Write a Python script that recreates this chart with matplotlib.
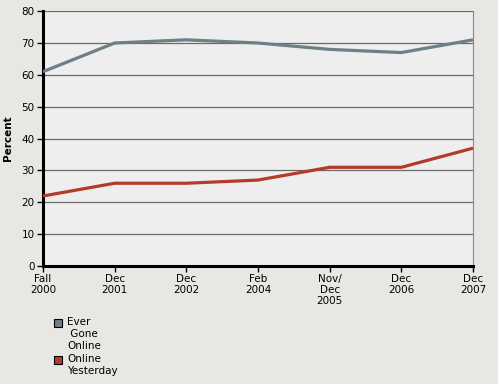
import matplotlib
matplotlib.use("Agg")
import matplotlib.pyplot as plt
from matplotlib.patches import Rectangle

periods = ["Fall\n2000", "Dec\n2001", "Dec\n2002", "Feb\n2004", "Nov/\nDec\n2005", "Dec\n2006", "Dec\n2007"]
ever_online = [61, 70, 71, 70, 68, 67, 71]
online_yesterday = [22, 26, 26, 27, 31, 31, 37]

series_names = ["Ever\n Gone\nOnline", "Online\nYesterday"]
series_colors = ["#6F7F86", "#B43A2C"]

fig = plt.figure(figsize=(4.98, 3.84), dpi=100, facecolor="#E9E7E3")
ax = fig.add_axes([0.0863, 0.307, 0.8635, 0.664])
ax.set_facecolor("#EEEEEE")

x = range(len(periods))
for vals, c in zip([ever_online, online_yesterday], series_colors):
    ax.plot(x, vals, color=c, linewidth=2.3, solid_capstyle="butt", zorder=3)

ax.set_xlim(0, len(periods) - 1)
ax.set_ylim(0, 80)
ax.set_yticks(range(0, 81, 10))
ax.set_xticks(list(x))
ax.set_xticklabels(periods, fontsize=7.5, linespacing=1.1)
ax.tick_params(axis="y", labelsize=7.5, length=4, width=1, pad=2)
ax.tick_params(axis="x", length=4, width=1, pad=2)
ax.grid(axis="y", color="#6A6A6A", linewidth=0.9)
ax.set_axisbelow(True)

for s in ["left", "bottom"]:
    ax.spines[s].set_linewidth(2.2)
    ax.spines[s].set_color("black")
ax.spines["top"].set_visible(False)
ax.spines["right"].set_color("#888888")
ax.spines["right"].set_linewidth(0.8)

ax.set_ylabel("Percent", fontsize=7.5, fontweight="bold", labelpad=6)

# legend drawn by hand below the chart
ytop = 1 - 318 / 384
for i, (name, c) in enumerate(zip(series_names, series_colors)):
    y0 = ytop - i * (37 / 384)
    fig.patches.append(Rectangle((54 / 498, y0 - 9 / 384), 8 / 498, 8 / 384,
                                 transform=fig.transFigure, facecolor=c,
                                 edgecolor="black", linewidth=0.8))
    fig.text(67 / 498, y0 + 1 / 384, name, fontsize=7.5, va="top", ha="left",
             linespacing=1.25)

fig.savefig("out.png", dpi=100, facecolor=fig.get_facecolor())
